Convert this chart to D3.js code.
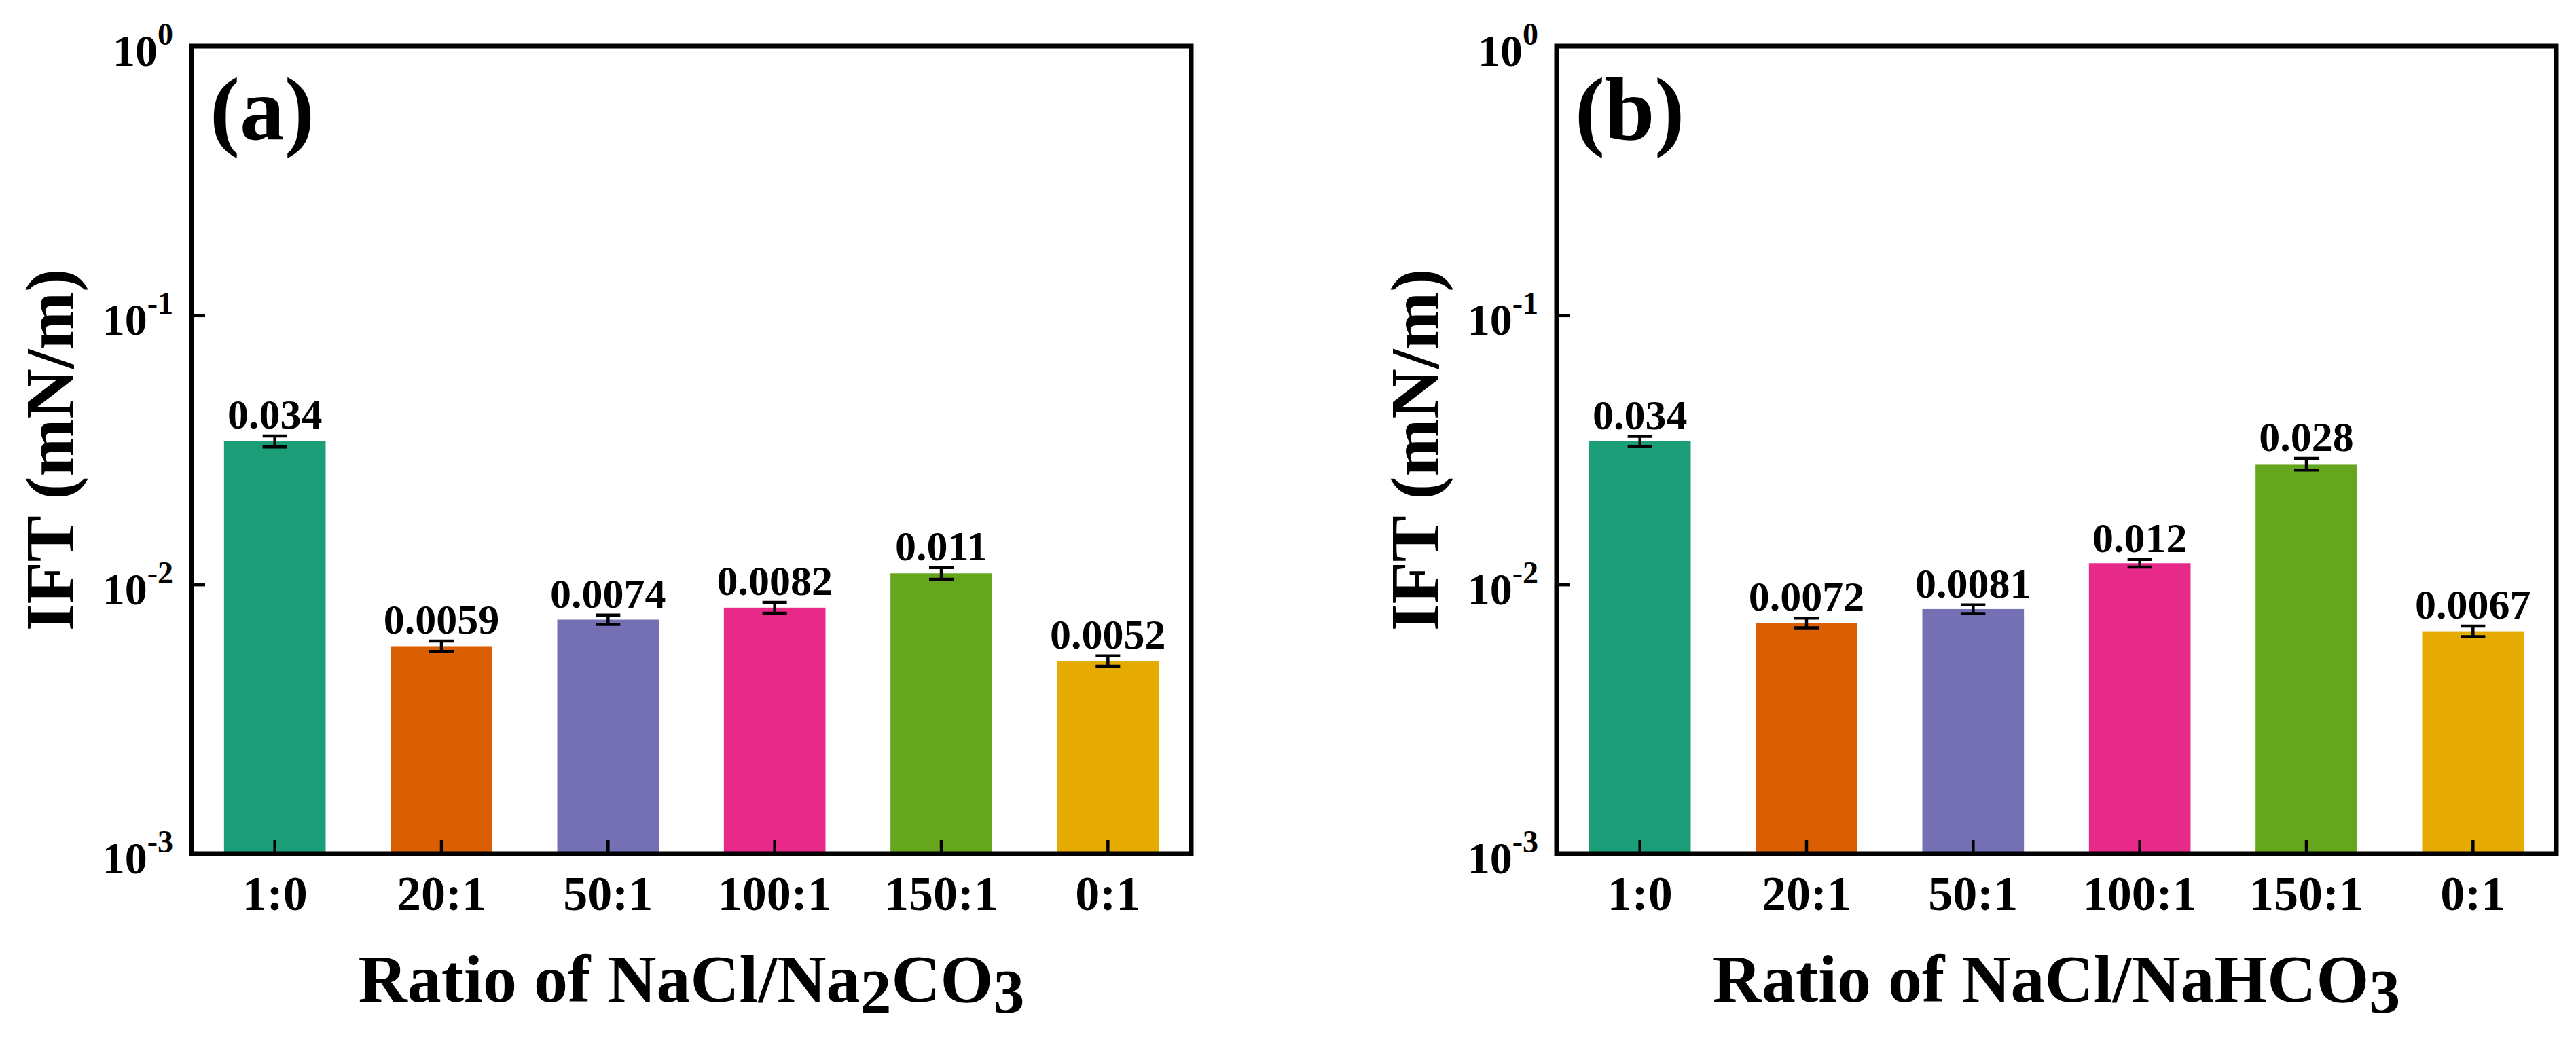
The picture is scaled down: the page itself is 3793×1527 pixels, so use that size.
<!DOCTYPE html>
<html>
<head>
<meta charset="utf-8">
<script src="https://cdn.jsdelivr.net/npm/d3@7"></script>
<style>
  body { margin: 0; background: #fff; }
  svg { display: block; }
  text { font-family: "Liberation Serif", "Times New Roman", serif; font-weight: bold; fill: #000; }
</style>
</head>
<body>
<svg id="chart"></svg>
<script>
// data
const categories = ['1:0', '20:1', '50:1', '100:1', '150:1', '0:1'];
const iftCarbonate = [0.034, 0.0059, 0.0074, 0.0082, 0.011, 0.0052];
const errCarbonate = [0.0016, 0.00026, 0.0003, 0.00038, 0.00055, 0.00023];
const iftBicarbonate = [0.034, 0.0072, 0.0081, 0.012, 0.028, 0.0067];
const errBicarbonate = [0.0015, 0.0003, 0.0003, 0.0004, 0.0014, 0.0003];
const yTicks = [1e-3, 1e-2, 1e-1, 1];
const yTickExp = ['-3', '-2', '-1', '0'];
const barColors = d3.schemeDark2.slice(0, 6);

const W = 3793, H = 1527;
const FRAME = { top: 68, bottom: 1257, width: 1472 };

const svg = d3.select('#chart').attr('width', W).attr('height', H);

function drawPanel(left, values, errors, letter, titleParts) {
  const g = svg.append('g').attr('transform', `translate(${left},${FRAME.top})`);
  const innerW = FRAME.width, innerH = FRAME.bottom - FRAME.top;

  const x = d3.scaleBand().domain(categories).range([0, innerW]).paddingInner(0.39).paddingOuter(0.195);
  const y = d3.scaleLog().domain([1e-3, 1]).range([innerH, 0]);
  const rows = categories.map((c, i) => ({ c, v: values[i], e: errors[i], col: barColors[i] }));

  // bars
  g.selectAll('rect.bar').data(rows).enter().append('rect')
    .attr('class', 'bar')
    .attr('x', d => x(d.c))
    .attr('y', d => y(d.v))
    .attr('width', x.bandwidth())
    .attr('height', d => innerH - y(d.v))
    .attr('fill', d => d.col);

  // error bars
  const cap = 18;
  const eb = g.selectAll('g.err').data(rows).enter().append('g').attr('class', 'err')
    .attr('transform', d => `translate(${x(d.c) + x.bandwidth() / 2},0)`)
    .attr('stroke', '#000').attr('stroke-width', 4.5);
  eb.append('line').attr('y1', d => y(d.v + d.e)).attr('y2', d => y(d.v - d.e));
  eb.append('line').attr('x1', -cap).attr('x2', cap).attr('y1', d => y(d.v + d.e)).attr('y2', d => y(d.v + d.e));
  eb.append('line').attr('x1', -cap).attr('x2', cap).attr('y1', d => y(d.v - d.e)).attr('y2', d => y(d.v - d.e));

  // value labels
  g.selectAll('text.val').data(rows).enter().append('text')
    .attr('class', 'val')
    .attr('x', d => x(d.c) + x.bandwidth() / 2)
    .attr('y', d => y(d.v + d.e) - 11)
    .attr('text-anchor', 'middle')
    .style('font-size', '62px')
    .text(d => String(d.v));

  // x axis (ticks pointing inward)
  const xa = g.append('g').attr('transform', `translate(0,${innerH})`)
    .call(d3.axisBottom(x).tickSize(-20).tickSizeOuter(0));
  xa.select('.domain').remove();
  xa.selectAll('.tick line').attr('stroke', '#000').attr('stroke-width', 4.5);
  xa.selectAll('.tick text').attr('y', 83).attr('dy', 0)
    .style('font-size', '72px').attr('fill', '#000');

  // y axis (log, ticks inward)
  const ya = g.append('g').call(d3.axisLeft(y).tickValues(yTicks).tickSize(-20).tickSizeOuter(0).tickFormat(() => ''));
  ya.select('.domain').remove();
  ya.selectAll('.tick line').attr('stroke', '#000').attr('stroke-width', 4.5);
  ya.selectAll('.tick text').remove();
  yTicks.forEach((t, i) => {
    const txt = g.append('text')
      .attr('x', -27).attr('y', y(t) + 29)
      .attr('text-anchor', 'end')
      .style('font-size', '66px');
    txt.append('tspan').text('10');
    txt.append('tspan').attr('dy', -31).style('font-size', '46px').text(yTickExp[i]);
  });

  // frame
  g.append('rect').attr('width', innerW).attr('height', innerH)
    .attr('fill', 'none').attr('stroke', '#000').attr('stroke-width', 7);

  // panel letter
  g.append('text').attr('x', 27).attr('y', 137)
    .style('font-size', '132px').text(`(${letter})`);

  // y title
  g.append('text')
    .attr('transform', `translate(${-174},${innerH / 2}) rotate(-90)`)
    .attr('text-anchor', 'middle')
    .style('font-size', '102px')
    .text('IFT (mN/m)');

  // x title with lowered digits
  const xt = g.append('text')
    .attr('x', innerW / 2).attr('y', innerH + 218)
    .attr('text-anchor', 'middle')
    .style('font-size', '100px');
  titleParts.forEach(p => {
    const ts = xt.append('tspan').text(p.t);
    if (p.sub) ts.attr('dy', 16).style('font-size', '92px');
    else if (p.back) ts.attr('dy', -16);
  });
}

drawPanel(282, iftCarbonate, errCarbonate, 'a', [
  { t: 'Ratio of NaCl/Na' }, { t: '2', sub: true }, { t: 'CO', back: true }, { t: '3', sub: true }
]);
drawPanel(2292, iftBicarbonate, errBicarbonate, 'b', [
  { t: 'Ratio of NaCl/NaHCO' }, { t: '3', sub: true }
]);
</script>
</body>
</html>
